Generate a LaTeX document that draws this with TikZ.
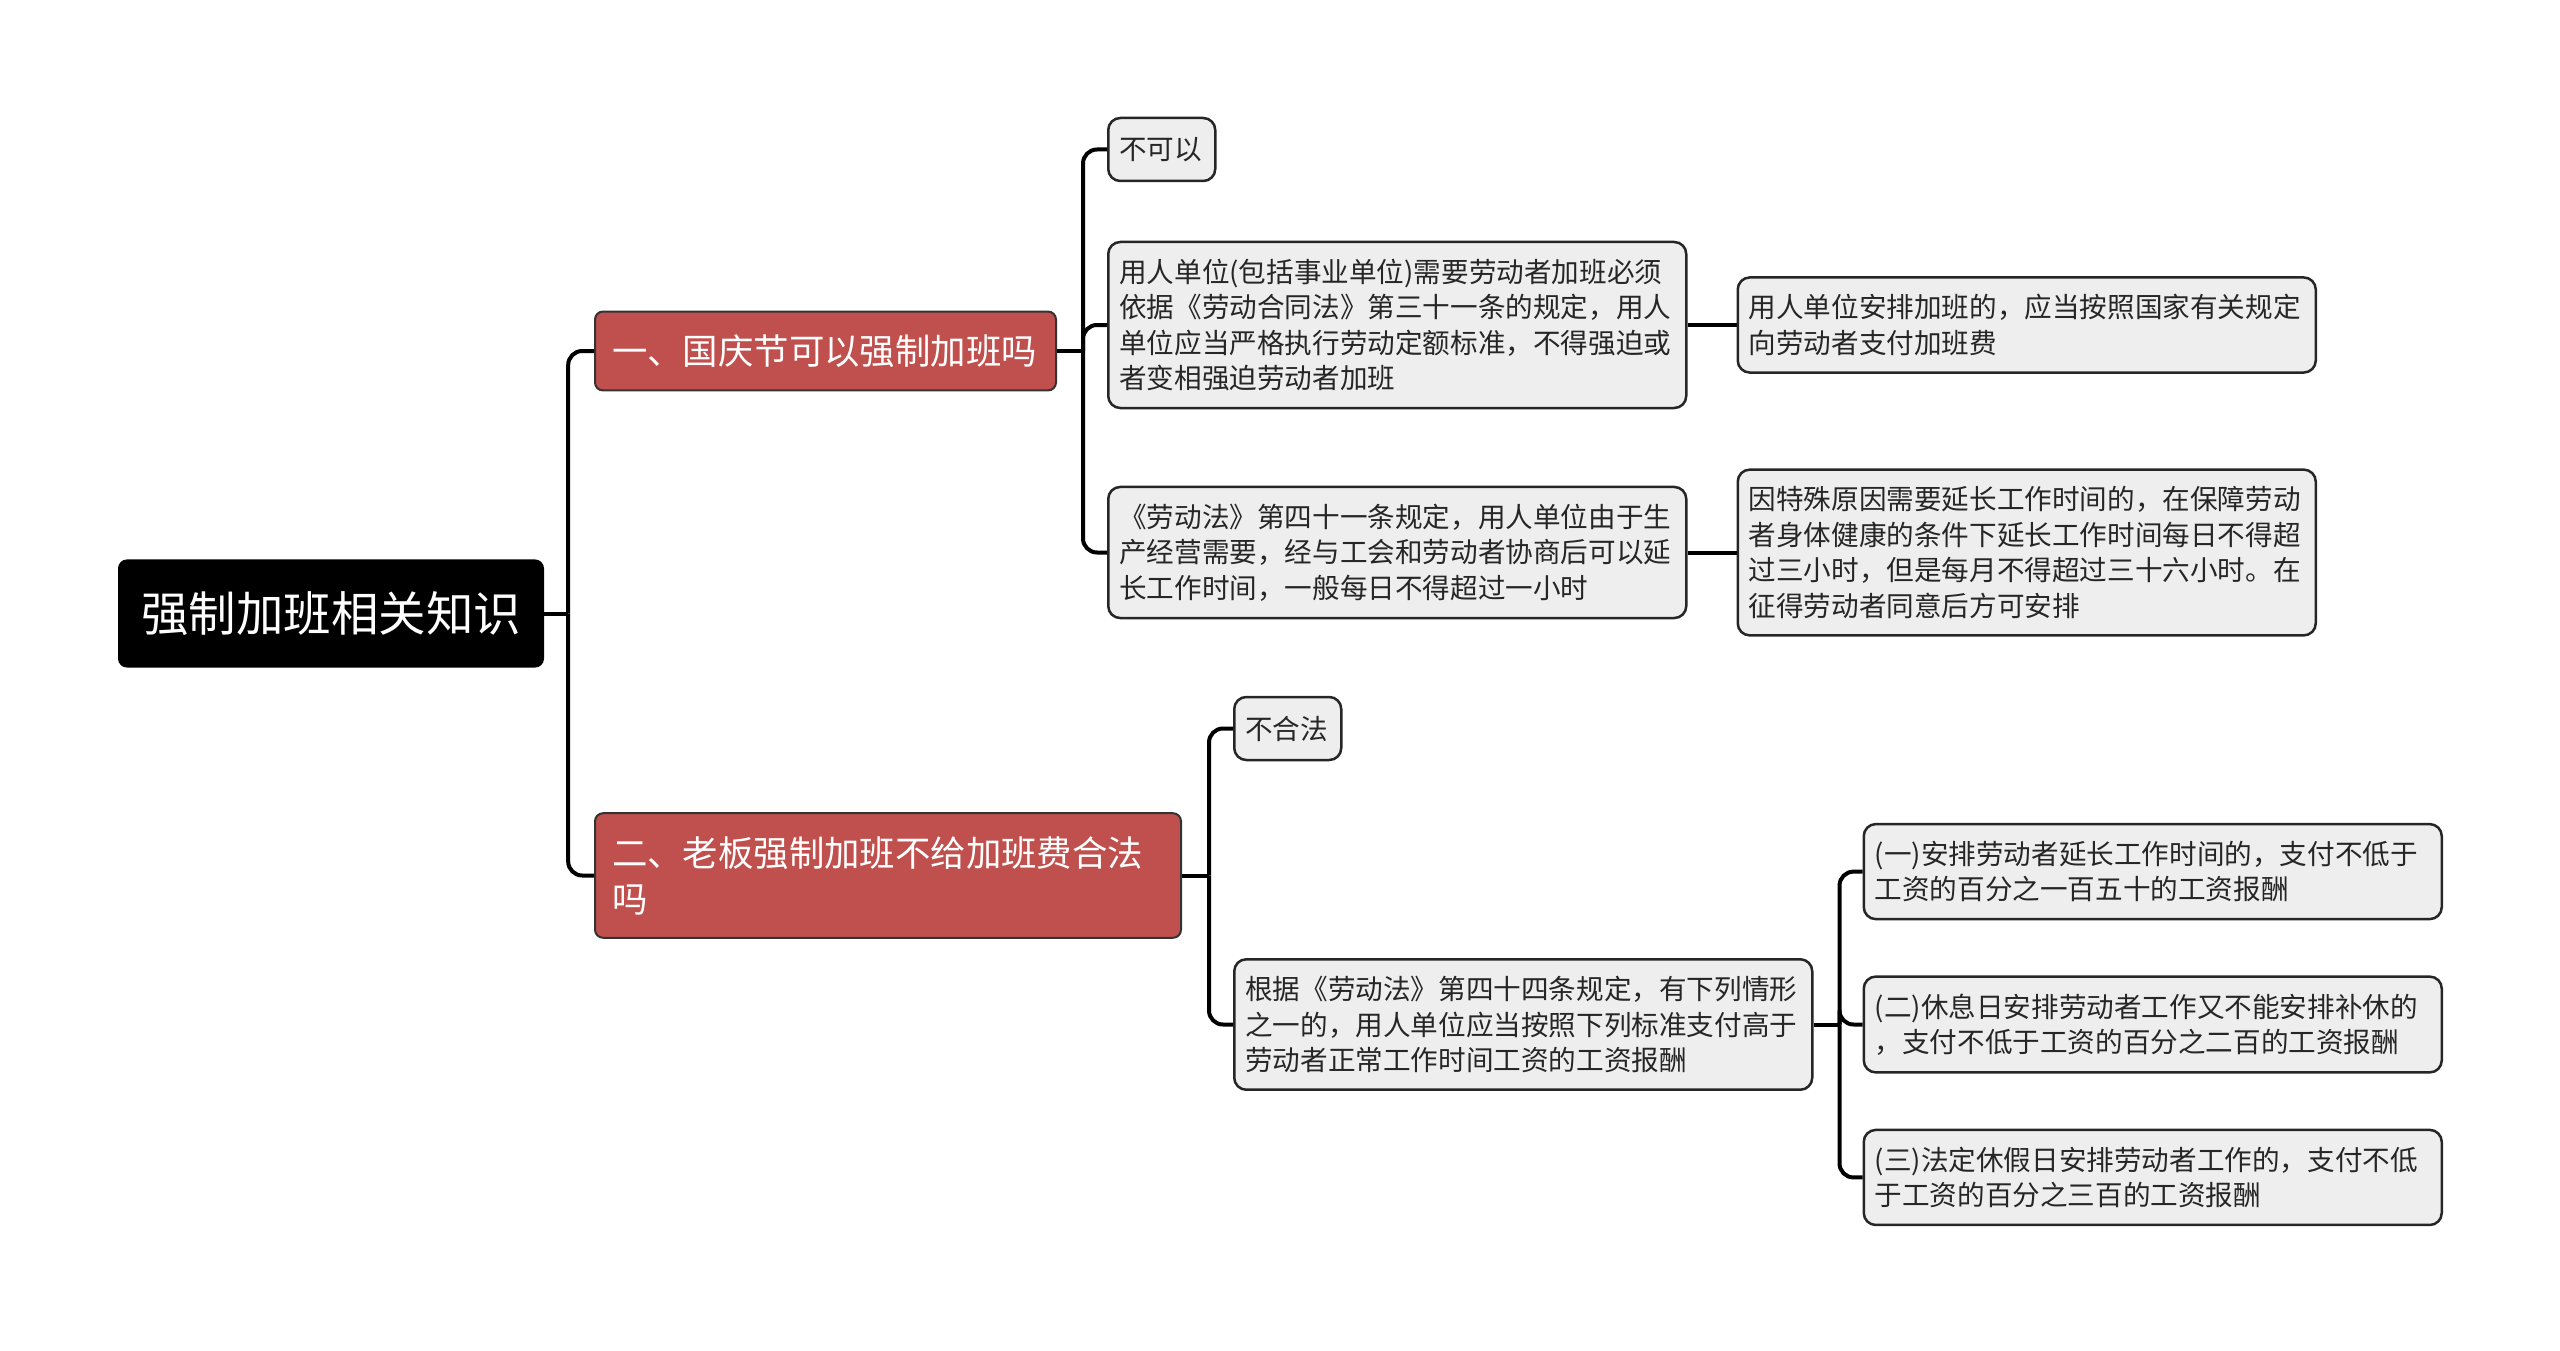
\documentclass[tikz,border=0pt]{standalone}
\usepackage{fontspec}
\newfontfamily\cjk{Noto Sans CJK SC}
\usetikzlibrary{positioning,calc}
\definecolor{branchred}{RGB}{192,80,77}
\definecolor{leafgray}{RGB}{238,238,238}

\begin{document}
\begin{tikzpicture}[
    x=1pt, y=-1pt,
    font=\cjk,
    % --- node styles ---
    rootbox/.style = {rectangle, fill=black, text=white,
                      rounded corners=9pt, align=center,
                      text width=382pt, inner xsep=22pt, inner ysep=32pt,
                      font=\cjk\fontsize{47.5}{56}\selectfont},
    catbox/.style  = {rectangle, fill=branchred, draw=black!80, line width=2pt,
                      rounded corners=8pt, text=white, align=left,
                      inner xsep=17pt, inner ysep=23pt,
                      font=\cjk\fontsize{35.4}{46}\selectfont},
    leaf/.style    = {rectangle, fill=leafgray, draw=black!85, line width=2.5pt,
                      rounded corners=12pt, text=black!85, align=left,
                      text width=556pt, inner xsep=11pt, inner ysep=17pt,
                      font=\cjk\fontsize{27.6}{35.4}\selectfont},
    tag/.style     = {leaf, text width=85pt, minimum height=63pt, inner ysep=0pt},
    link/.style    = {draw=black, line width=4pt, rounded corners=14pt},
]
\useasboundingbox (0,0) rectangle (2560,1351);

%============ ROOT ============
\node (root) [rootbox] at (331,613.5) {强制加班相关知识};

%============ FIRST-LEVEL BRANCHES ============
\node (catA) [catbox, text width=427pt, anchor=west] at (594,351)
  {一、国庆节可以强制加班吗};
\node (catB) [catbox, text width=552pt, anchor=west] at (594,875.5)
  {二、老板强制加班不给加班费合法\\吗};

%============ BRANCH ONE ============
\node (a1) [tag, anchor=west] at (1107,149.5) {不可以};

\node (a2) [leaf, anchor=west] at (1107,325)
  {用人单位(包括事业单位)需要劳动者加班必须\\
   依据《劳动合同法》第三十一条的规定，用人\\
   单位应当严格执行劳动定额标准，不得强迫或\\
   者变相强迫劳动者加班};

\node (a3) [leaf, anchor=west] at (1107,552.5)
  {《劳动法》第四十一条规定，用人单位由于生\\
   产经营需要，经与工会和劳动者协商后可以延\\
   长工作时间，一般每日不得超过一小时};

\node (a2x) [leaf, right=49pt of a2]
  {用人单位安排加班的，应当按照国家有关规定\\
   向劳动者支付加班费};

\node (a3x) [leaf, right=49pt of a3]
  {因特殊原因需要延长工作时间的，在保障劳动\\
   者身体健康的条件下延长工作时间每日不得超\\
   过三小时，但是每月不得超过三十六小时。在\\
   征得劳动者同意后方可安排};

%============ BRANCH TWO ============
\node (b1) [tag, anchor=west] at (1233,728.5) {不合法};

\node (b2) [leaf, anchor=west] at (1233,1024.5)
  {根据《劳动法》第四十四条规定，有下列情形\\
   之一的，用人单位应当按照下列标准支付高于\\
   劳动者正常工作时间工资的工资报酬};

\node (b2b) [leaf, right=49pt of b2]
  {(二)休息日安排劳动者工作又不能安排补休的\\
   ，支付不低于工资的百分之二百的工资报酬};

\node (b2a) [leaf, above=55pt of b2b]
  {(一)安排劳动者延长工作时间的，支付不低于\\
   工资的百分之一百五十的工资报酬};

\node (b2c) [leaf, below=55pt of b2b]
  {(三)法定休假日安排劳动者工作的，支付不低\\
   于工资的百分之三百的工资报酬};

%============ CONNECTORS ============
% junction points on each trunk
\coordinate (rootJ) at ($(root.east)+(24,0)$);
\coordinate (catAJ) at ($(catA.east)+(26,0)$);
\coordinate (catBJ) at ($(catB.east)+(27,0)$);
\coordinate (b2J)   at ($(b2.east)+(26,0)$);

\draw[link] (root.east) -- (rootJ);
\draw[link] (catA.east) -- (catAJ);
\draw[link] (catB.east) -- (catBJ);
\draw[link] (b2.east)   -- (b2J);

\foreach \p/\c in {rootJ/catA, rootJ/catB,
                   catAJ/a1, catAJ/a2, catAJ/a3,
                   catBJ/b1, catBJ/b2,
                   b2J/b2a, b2J/b2b, b2J/b2c}
  \draw[link] (\p) |- (\c.west);

% straight single-child links
\draw[link] (a2.east) -- (a2x.west);
\draw[link] (a3.east) -- (a3x.west);

\end{tikzpicture}
\end{document}
